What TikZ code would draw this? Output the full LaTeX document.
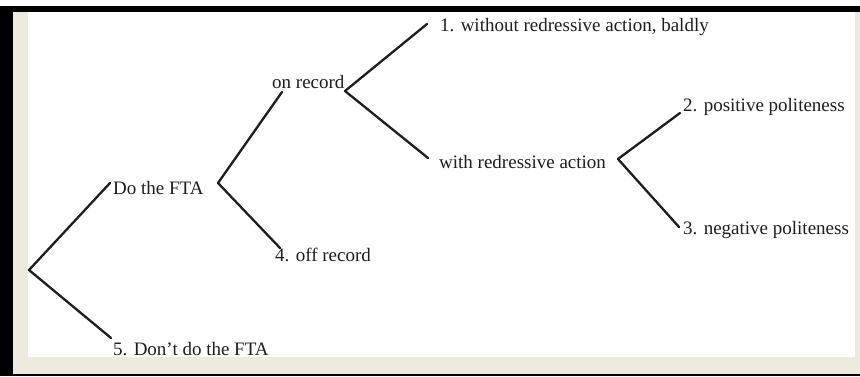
\documentclass[tikz,border=0pt]{standalone}
\usepackage{fontspec}
\setmainfont{Liberation Serif}
\definecolor{beige}{RGB}{237,234,224}
\definecolor{ink}{RGB}{30,30,30}
\tikzset{
  lbl/.style={anchor=base west, inner sep=0pt, text=ink, font=\fontsize{19}{22}\selectfont},
  branch/.style={draw=ink, line width=2.3pt, line cap=round, line join=round}
}
\begin{document}
\begin{tikzpicture}[x=1pt,y=-1pt]
\useasboundingbox (0,0) rectangle (860,376);
% frame
\fill[beige] (13,12) rectangle (860,374);
\fill[white] (28,12) rectangle (855,357);
\fill[black] (0,6) rectangle (860,12);
\fill[black] (0,6) rectangle (13,376);
\fill[black] (0,374) rectangle (860,376);
% junctions
\coordinate (root) at (29,270);
\coordinate (jfta) at (218,183);
\coordinate (jrec) at (345,91);
\coordinate (jred) at (618,159);
% labels
\node[lbl] (dofta) at (113,194) {Do the FTA};
\node[lbl] (dont) at (113,355) {5. Don't do the FTA};
\node[lbl] (onrec) at (272,88) {on record};
\node[lbl] (offrec) at (275,261) {4. off record};
\node[lbl] (without) at (440,31) {1. without redressive action, baldly};
\node[lbl] (withred) at (439,168) {with redressive action};
\node[lbl] (pos) at (683,111) {2. positive politeness};
\node[lbl] (neg) at (683,234) {3. negative politeness};
% connectors
\draw[branch] ([shift={(-3pt,11pt)}]dofta.base west) -- (root) -- ([shift={(-2pt,17pt)}]dont.base west);
\draw[branch] ([shift={(10pt,-4pt)}]onrec.base west) -- (jfta) -- ([shift={(5pt,13pt)}]offrec.base west);
\draw[branch] ([shift={(-13pt,7pt)}]without.base west) -- (jrec) -- ([shift={(-11pt,10pt)}]withred.base west);
\draw[branch] ([shift={(-3pt,-2pt)}]pos.base west) -- (jred) -- ([shift={(-4pt,7pt)}]neg.base west);
\end{tikzpicture}
\end{document}
